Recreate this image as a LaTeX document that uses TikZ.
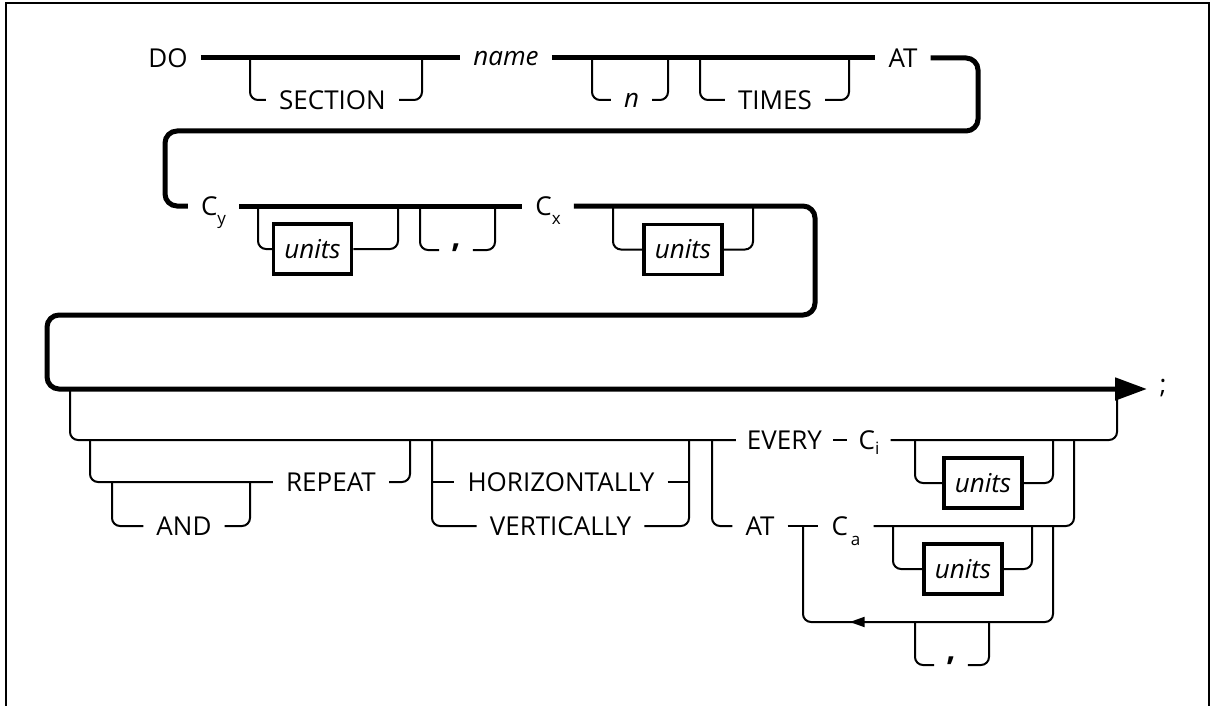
\documentclass[tikz,border=0pt]{standalone}
\usepackage{fontspec}
\setmainfont{Open Sans}
\usetikzlibrary{arrows.meta,decorations.markings}
\newcommand\kwf{\fontsize{26}{30}\selectfont}
\newcommand\sbx[2]{\raisebox{#1}{\fontsize{17}{17}\selectfont #2}}
\newcommand\bigcomma{\fontsize{32}{32}\selectfont\bfseries ,}
\begin{document}
\begin{tikzpicture}[x=1pt,y=-1pt,
  thickln/.style={line width=5pt, rounded corners=12pt},
  thinln/.style={line width=2pt, rounded corners=8pt},
  kw/.style={inner xsep=13pt, inner ysep=0pt, text height=19pt, text depth=0pt, font=\kwf},
  var/.style={kw, text height=14pt, font=\kwf\itshape},
  unitbox/.style={draw, line width=3.5pt, minimum width=78pt, minimum height=50pt, inner sep=0pt, font=\kwf\itshape},
  cmnode/.style={inner xsep=12pt, inner ysep=0pt, text height=0pt, text depth=0pt, font=\kwf}]
\useasboundingbox (0,0) rectangle (1212,706);
\draw[line width=2pt] (6,706) -- (6,3) -- (1209,3) -- (1209,706);

% ---------- row 1
\node[kw] (DO) at (168,58) {DO};
\node[kw] (SEC) at (332.5,100) {SECTION};
\node[var] (name) at (506,59) {name};
\node[var] (n) at (631.5,101) {n};
\node[kw] (TIMES) at (775,100) {TIMES};
\node[kw] (AT) at (903,58) {AT};
\coordinate (s1) at (250,58);  \coordinate (s2) at (422,58);
\coordinate (n1) at (592,58);  \coordinate (n2) at (668,58);
\coordinate (t1) at (700,58);  \coordinate (t2) at (849,58);
\coordinate (k1) at (978,58);  \coordinate (k2) at (978,131);
\coordinate (k3) at (165,131);

% ---------- row 2
\node[kw] (Cy) at (213.5,206) {C\sbx{-9pt}{y}};
\node[unitbox] (U1) at (312.5,249) {units};
\node[cmnode] (cm1) at (456,250) {\raisebox{3pt}{\bigcomma}};
\node[kw] (Cx) at (548,206) {C\sbx{-9pt}{x}};
\node[unitbox] (U2) at (683,249.5) {units};
\coordinate (u1a) at (258,206); \coordinate (u1b) at (398,206);
\coordinate (c1a) at (420,206); \coordinate (c1b) at (495,206);
\coordinate (u2a) at (613,206); \coordinate (u2b) at (753,206);
\coordinate (k4) at (815,206); \coordinate (k5) at (815,315);
\coordinate (k6) at (47,315);  \coordinate (k7) at (47,389);
\coordinate (tip) at (1147,389);
\node[anchor=base, font=\kwf] (semi) at (1163,393) {;};

% ---------- row 3
\node[kw] (REP) at (331,482) {REPEAT};
\node[kw] (AND) at (184,526) {AND};
\node[kw] (HOR) at (561,482) {HORIZONTALLY};
\node[kw] (VER) at (560.5,526) {VERTICALLY};
\node[kw, inner xsep=11pt] (EVERY) at (784.5,440) {EVERY};
\node[kw, inner xsep=11pt] (Ci) at (869,440) {C\sbx{-5pt}{i}};
\node[unitbox] (U3) at (983,483) {units};
\node[kw] (AT2) at (760,526) {AT};
\node[kw] (Ca) at (846,526) {C\hspace{3pt}\sbx{-10pt}{a}};
\node[unitbox] (U4) at (963,569) {units};
\node[cmnode] (cm2) at (951,665) {\raisebox{5pt}{\bigcomma}};
\coordinate (b0) at (70,389);
\coordinate (r1) at (90,440);  \coordinate (r2) at (410,440);
\coordinate (a1) at (112,482); \coordinate (a2) at (250,482);
\coordinate (h1) at (432,440); \coordinate (h2) at (432,482);
\coordinate (h3) at (689,482); \coordinate (h4) at (689,440);
\coordinate (e1) at (712,440);
\coordinate (up) at (1117,389);
\coordinate (u3a) at (915,440); \coordinate (u3b) at (1053,440);
\coordinate (ca) at (1074,440);
\coordinate (u4a) at (893,526); \coordinate (u4b) at (1032,526);
\coordinate (L1) at (1053,526); \coordinate (L2) at (1053,622);
\coordinate (L3) at (803,622);  \coordinate (L4) at (803,526);
\coordinate (q1) at (915,622);  \coordinate (q2) at (989,622);

% ---------- thick main line
\draw[thickln] (DO.east) -- (name.west |- DO.east);
\draw[thickln] (name.east |- AT.west) -- (AT.west);
\draw[thickln] (AT.east) -- (k1) -- (k2) -- (k3) |- (Cy.west);
\draw[thickln] (Cy.east) -- (Cx.west);
\draw[thickln,-{Triangle[length=32pt,width=22pt]}] (Cx.east) -- (k4) -- (k5) -- (k6) -- (k7) -- (tip);

% ---------- thin branches row 1
\draw[thinln] (s1) |- (SEC.west);
\draw[thinln] (SEC.east) -| (s2);
\draw[thinln] (n1) |- (n.west |- SEC.west);
\draw[thinln] (n.east |- SEC.east) -| (n2);
\draw[thinln] (t1) |- (TIMES.west);
\draw[thinln] (TIMES.east) -| (t2);

% ---------- thin branches row 2
\draw[thinln] (u1a) |- (U1.west);
\draw[thinln] (U1.east) -| (u1b);
\draw[thinln] (c1a) |- (cm1.west);
\draw[thinln] (cm1.east) -| (c1b);
\draw[thinln] (u2a) |- (U2.west);
\draw[thinln] (U2.east) -| (u2b);

% ---------- thin branches row 3
\draw[thinln] (b0) |- (EVERY.west);
\draw[thinln] (r1) |- (REP.west);
\draw[thinln] (REP.east) -| (r2);
\draw[thinln] (a1) |- (AND.west);
\draw[thinln] (AND.east) -| (a2);
\draw[thinln] (h1) |- (VER.west);
\draw[thinln] (h2) -- (HOR.west);
\draw[thinln] (HOR.east) -- (h3);
\draw[thinln] (VER.east) -| (h4);
\draw[thinln] (EVERY.east) -- (Ci.west);
\draw[thinln] (Ci.east) -| (up);
\draw[thinln] (u3a) |- (U3.west);
\draw[thinln] (U3.east) -| (u3b);
\draw[thinln] (e1) |- (AT2.west);
\draw[thinln] (AT2.east) -- (Ca.west);
\draw[thinln] (Ca.east) -| (ca);
\draw[thinln] (u4a) |- (U4.west);
\draw[thinln] (U4.east) -| (u4b);
\draw[thinln, postaction={decorate},
  decoration={markings, mark=at position 0.68 with {\arrow{Triangle[length=15pt,width=10pt]}}}]
  (L1) -- (L2) -- (L3) -- (L4);
\draw[thinln] (q1) |- (cm2.west);
\draw[thinln] (cm2.east) -| (q2);
\end{tikzpicture}
\end{document}
